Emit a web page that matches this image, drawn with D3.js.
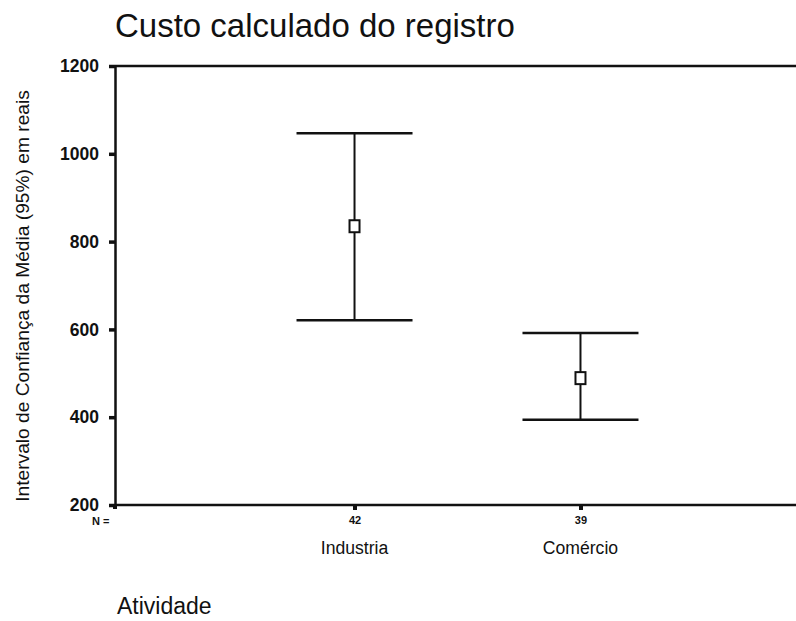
<!DOCTYPE html>
<html>
<head>
<meta charset="utf-8">
<script src="https://cdn.jsdelivr.net/npm/d3@7"></script>
<style>
  html, body { margin: 0; padding: 0; background: #fff; }
  svg { display: block; font-family: "Liberation Sans", Arial, Helvetica, sans-serif; }
</style>
</head>
<body>
<svg id="chart" width="796" height="621"></svg>
<script>
// Error-bar chart: 95% confidence interval of the mean registration cost by activity
const categories = ["Industria", "Comércio"];
const counts = [42, 39];
const means = [835, 489];
const lower = [621, 394];
const upper = [1047, 592];
const yTicks = [200, 400, 600, 800, 1000, 1200];

const svg = d3.select("#chart");
const plotLeft = 115, plotTop = 66, plotBottom = 505, plotRightEnd = 820;
const ink = "#111";

const y = d3.scaleLinear().domain([200, 1200]).range([plotBottom, plotTop]);
const x = d3.scalePoint().domain(categories).range([plotLeft, plotRightEnd]).padding(1.06);

// Title
svg.append("text")
  .attr("x", 115).attr("y", 37)
  .attr("font-size", 33)
  .attr("fill", ink)
  .text("Custo calculado do registro");

// Frame: top border and x baseline
svg.append("line")
  .attr("x1", plotLeft).attr("x2", 796).attr("y1", plotTop).attr("y2", plotTop)
  .attr("stroke", ink).attr("stroke-width", 2.5);
svg.append("line")
  .attr("x1", plotLeft).attr("x2", 796).attr("y1", plotBottom).attr("y2", plotBottom)
  .attr("stroke", ink).attr("stroke-width", 2.5);

// Y axis
const yAxis = d3.axisLeft(y).tickValues(yTicks).tickSize(6).tickPadding(10).tickFormat(d3.format("d"));
const gy = svg.append("g").attr("transform", `translate(${plotLeft},0)`).call(yAxis);
gy.select(".domain").attr("stroke", ink).attr("stroke-width", 2.5);
gy.selectAll(".tick line").attr("stroke", ink).attr("stroke-width", 3.5);
gy.selectAll(".tick text")
  .attr("font-size", 17.5).attr("font-weight", "bold").attr("fill", ink)
  .attr("font-family", "'Liberation Sans', Arial, sans-serif");

// X axis with N counts as tick labels
const nByCat = new Map(categories.map((c, i) => [c, counts[i]]));
const xAxis = d3.axisBottom(x).tickSize(5).tickPadding(6).tickFormat(c => nByCat.get(c));
const gx = svg.append("g").attr("transform", `translate(0,${plotBottom})`).call(xAxis);
gx.select(".domain").remove();
gx.selectAll(".tick line").attr("stroke", ink).attr("stroke-width", 4);
gx.selectAll(".tick text")
  .attr("font-size", 11).attr("font-weight", "bold").attr("fill", ink)
  .attr("font-family", "'Liberation Sans Narrow', 'Liberation Sans', Arial, sans-serif");

// origin tick and "N =" label
svg.append("line")
  .attr("x1", plotLeft).attr("x2", plotLeft).attr("y1", plotBottom).attr("y2", plotBottom + 4)
  .attr("stroke", ink).attr("stroke-width", 4);
svg.append("text")
  .attr("x", 92).attr("y", 525)
  .attr("font-size", 11).attr("font-weight", "bold").attr("fill", ink)
  .attr("font-family", "'Liberation Sans Narrow', 'Liberation Sans', Arial, sans-serif")
  .text("N =");

// Category labels
svg.selectAll("text.cat")
  .data(categories)
  .join("text")
  .attr("class", "cat")
  .attr("x", d => x(d)).attr("y", 554)
  .attr("text-anchor", "middle")
  .attr("font-size", 17.6).attr("fill", ink)
  .attr("font-family", "'Liberation Sans Narrow', 'Liberation Sans', Arial, sans-serif")
  .text(d => d);

// Y axis title
svg.append("text")
  .attr("transform", `translate(29,296) rotate(-90)`)
  .attr("text-anchor", "middle")
  .attr("font-size", 19.2).attr("fill", ink)
  .text("Intervalo de Confiança da Média (95%) em reais");

// X axis title
svg.append("text")
  .attr("x", 117).attr("y", 614)
  .attr("font-size", 23).attr("fill", ink)
  .text("Atividade");

// Error bars
const data = categories.map((c, i) => ({ c, mean: means[i], lo: lower[i], hi: upper[i] }));
const capHalf = 58;
const bars = svg.append("g").attr("stroke", ink).attr("stroke-width", 2).attr("fill", "none");
data.forEach(d => {
  const cx = x(d.c);
  bars.append("line").attr("x1", cx).attr("x2", cx).attr("y1", y(d.hi)).attr("y2", y(d.lo));
  bars.append("line").attr("x1", cx - capHalf).attr("x2", cx + capHalf).attr("y1", y(d.hi)).attr("y2", y(d.hi)).attr("stroke-width", 2.5);
  bars.append("line").attr("x1", cx - capHalf).attr("x2", cx + capHalf).attr("y1", y(d.lo)).attr("y2", y(d.lo)).attr("stroke-width", 2.5);
  bars.append("rect")
    .attr("x", cx - 5).attr("y", y(d.mean) - 6)
    .attr("width", 10).attr("height", 12)
    .attr("fill", "#fff").attr("stroke-width", 2);
});
</script>
</body>
</html>
